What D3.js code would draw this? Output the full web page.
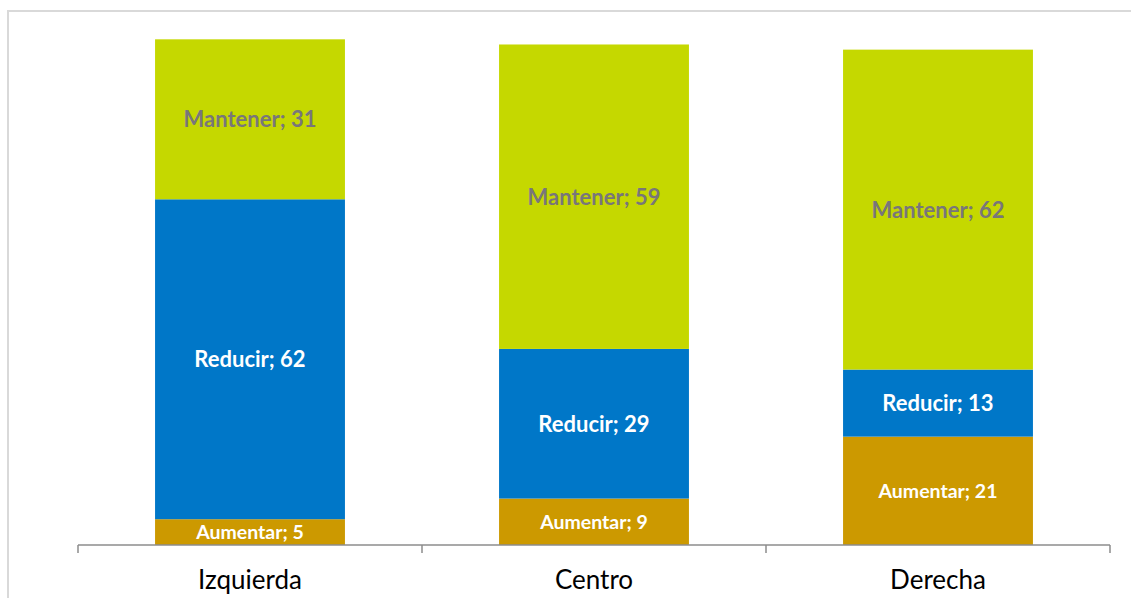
<!DOCTYPE html>
<html>
<head>
<meta charset="utf-8">
<script src="https://cdn.jsdelivr.net/npm/d3@7"></script>
<style>
  body { margin: 0; background: #fff; }
  svg { display: block; }
</style>
</head>
<body>
<svg id="chart"></svg>
<script>
const categories = ["Izquierda", "Centro", "Derecha"];
const seriesNames = ["Aumentar", "Reducir", "Mantener"];
const aumentar = [5, 9, 21];
const reducir = [62, 29, 13];
const mantener = [31, 59, 62];

const width = 1131;
const height = 598;
const margin = { top: 29, right: 21, bottom: 53, left: 78 };

const colors = { Aumentar: "#cc9900", Reducir: "#0077c8", Mantener: "#c5d800" };
const textColors = { Aumentar: "#ffffff", Reducir: "#ffffff", Mantener: "#78767a" };
const fontSizes = { Aumentar: 19.5, Reducir: 22, Mantener: 22 };

const rows = categories.map((c, i) => ({
  cat: c,
  Aumentar: aumentar[i],
  Reducir: reducir[i],
  Mantener: mantener[i]
}));
const stacked = d3.stack().keys(seriesNames)(rows);

const svg = d3.select("#chart").attr("width", width).attr("height", height);

// outer chart border (runs off the right and bottom edges)
svg.append("rect")
  .attr("x", 8).attr("y", 11)
  .attr("width", width + 20).attr("height", height + 20)
  .attr("fill", "none")
  .attr("stroke", "#d9d9d9")
  .attr("stroke-width", 2);

const x = d3.scaleBand()
  .domain(categories)
  .range([margin.left, width - margin.right])
  .paddingInner(0.448)
  .paddingOuter(0.224);

const y = d3.scaleLinear()
  .domain([0, 100])
  .range([height - margin.bottom, margin.top]);

const layers = svg.append("g")
  .selectAll("g")
  .data(stacked)
  .join("g")
  .attr("fill", d => colors[d.key]);

layers.selectAll("rect")
  .data(d => d)
  .join("rect")
  .attr("x", d => x(d.data.cat))
  .attr("y", d => y(d[1]))
  .attr("width", x.bandwidth())
  .attr("height", d => y(d[0]) - y(d[1]));

layers.each(function(layer) {
  d3.select(this).selectAll("text")
    .data(layer)
    .join("text")
    .attr("x", d => x(d.data.cat) + x.bandwidth() / 2)
    .attr("y", d => (y(d[0]) + y(d[1])) / 2)
    .attr("dy", "0.36em")
    .attr("text-anchor", "middle")
    .attr("fill", textColors[layer.key])
    .style("font-family", "Lato, 'Open Sans', sans-serif")
    .style("font-weight", "bold")
    .style("font-size", fontSizes[layer.key] + "px")
    .text(d => `${layer.key}; ${d.data[layer.key]}`);
});

// x axis with ticks between categories
const axisY = y(0);
const step = x.step();
const bounds = [x(categories[0]) - x.paddingOuter() * step]
  .concat(categories.map(c => x(c) + x.bandwidth() + x.paddingInner() * step / 2));
bounds[bounds.length - 1] = width - margin.right;

const axis = svg.append("g")
  .attr("transform", `translate(0, ${axisY})`)
  .call(d3.axisBottom(x).tickSize(0));
axis.select(".domain")
  .attr("stroke", "#8c8c8c")
  .attr("stroke-width", 1.5)
  .attr("d", `M${bounds[0]},0H${bounds[bounds.length - 1]}`);
axis.selectAll(".tick text")
  .attr("y", 44)
  .attr("dy", null)
  .attr("fill", "#000")
  .style("font-family", "Lato, 'Open Sans', sans-serif")
  .style("font-size", "26px");
axis.selectAll(".bound")
  .data(bounds)
  .join("line")
  .attr("class", "bound")
  .attr("x1", d => d).attr("x2", d => d)
  .attr("y1", 0).attr("y2", 8)
  .attr("stroke", "#8c8c8c")
  .attr("stroke-width", 1.5);
</script>
</body>
</html>
